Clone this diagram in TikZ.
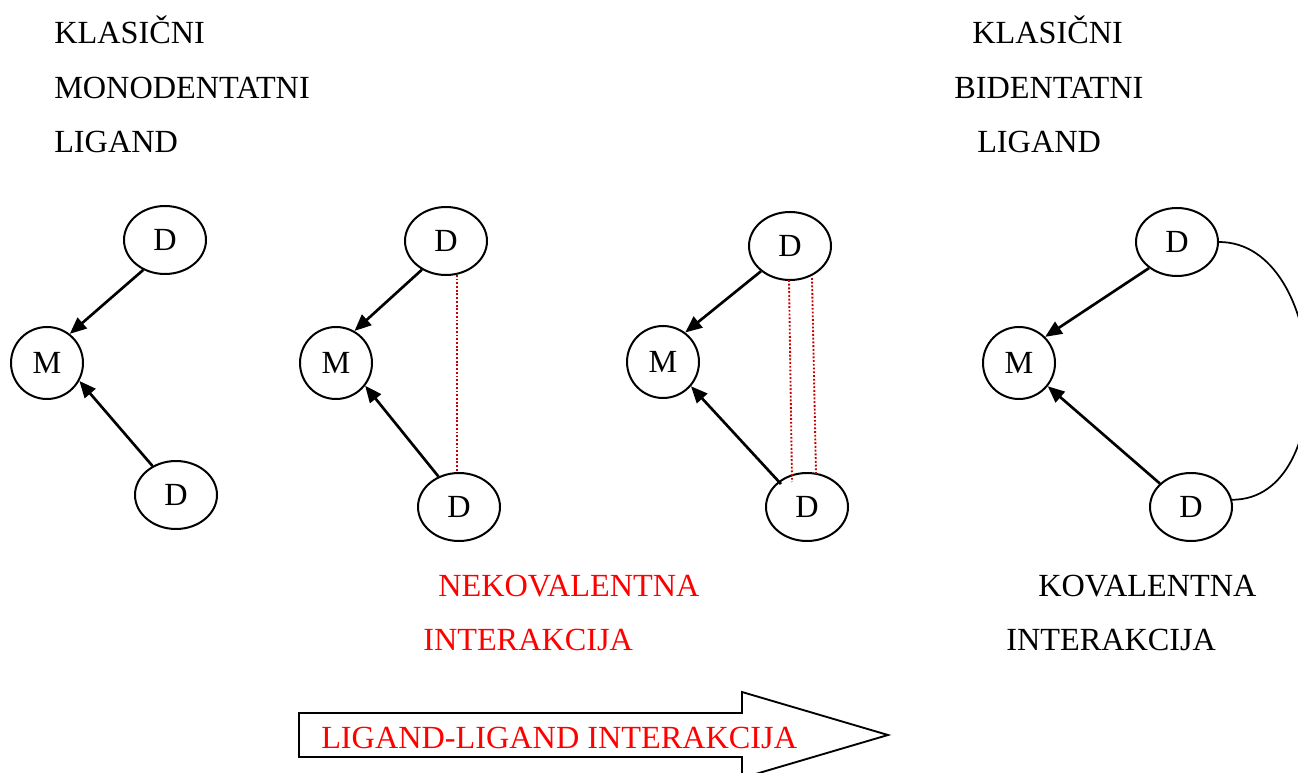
\documentclass[tikz,border=0pt]{standalone}
\usepackage{fontspec}
\setmainfont{Liberation Serif}
\usetikzlibrary{shapes.geometric,arrows.meta,calc}
\definecolor{dotred}{RGB}{200,0,0}
\definecolor{txtred}{RGB}{255,0,0}
\begin{document}
\begin{tikzpicture}[x=0.75pt,y=-0.75pt,
  every node/.style={font=\fontsize{24.2}{28}\selectfont},
  dnode/.style={draw,ellipse,line width=1.5pt,minimum width=61.5pt,minimum height=51pt,inner sep=0pt},
  mnode/.style={draw,circle,line width=1.5pt,minimum size=54pt,inner sep=0pt},
  bond/.style={line width=2pt,-{Triangle[length=12.5pt,width=10.5pt]}},
  weak/.style={draw=dotred,line width=1.4pt,dash pattern=on 1.4pt off 1.4pt},
  lbl/.style={anchor=base west,inner sep=0pt},
  bigarrow/.style={draw,line width=1.4pt,fill=white},
]
\useasboundingbox (0,0) rectangle (1298,773);

% titles
\node[lbl] (t1) at (54,44) {KLASIČNI};
\node[lbl] (t2) at (54,99) {MONODENTATNI};
\node[lbl] (t3) at (54,153) {LIGAND};
\node[lbl] (r1) at (972,44) {KLASIČNI};
\node[lbl] (r2) at (954,99) {BIDENTATNI};
\node[lbl] (r3) at (977,153) {LIGAND};

% panel 1
\node[dnode] (d1t) at (165,240) {D};
\node[mnode] (m1) at (47,363) {M};
\node[dnode] (d1b) at (176,495) {D};
\draw[bond] (d1t.234) -- (m1.52);
\draw[bond] (d1b.129) -- (m1.331);

% panel 2
\node[dnode] (d2t) at (446,241) {D};
\node[mnode] (m2) at (336,363) {M};
\node[dnode] (d2b) at (459,507) {D};
\draw[bond] (d2t.230) -- (m2.60);
\draw[bond] (d2b.124) -- (m2.322);
\draw[weak] (d2t.288) -- (d2t.288 |- d2b.north);

% panel 3
\node[dnode] (d3t) at (790,246) {D};
\node[mnode] (m3) at (663,362) {M};
\node[dnode] (d3b) at (807,507) {D};
\draw[bond] (d3t.221) -- (m3.53);
\draw[bond] ($(d3b)+(-26,-23)$) -- (m3.319);
\draw[weak] ($(d3t)+(-1,34)$) -- ($(d3b)+(-15,-25)$);
\draw[weak] ($(d3t)+(22,32)$) -- ($(d3b)+(9,-33)$);

% panel 4
\node[dnode] (d4t) at (1177,242) {D};
\node[mnode] (m4) at (1019,363) {M};
\node[dnode] (d4b) at (1191,507) {D};
\draw[bond] (d4t.223) -- (m4.45);
\draw[bond] (d4b.143) -- (m4.321);
\draw[line width=1.3pt] (d4t.east) .. controls +(110,0) and +(110,0) .. (d4b.10);

% labels
\node[lbl,text=txtred] (n1) at (438,596) {NEKOVALENTNA};
\node[lbl,text=txtred] (n2) at (423,650) {INTERAKCIJA};
\node[lbl] (k1) at (1038,596) {KOVALENTNA};
\node[lbl] (k2) at (1006,650) {INTERAKCIJA};

% big arrow
\draw[bigarrow] (299,713) -- (742,713) -- (742,692) -- (888,735) -- (742,778) -- (742,757) -- (299,757) -- cycle;
\node[lbl,text=txtred] (ll) at (321,748) {LIGAND-LIGAND INTERAKCIJA};
\end{tikzpicture}
\end{document}
